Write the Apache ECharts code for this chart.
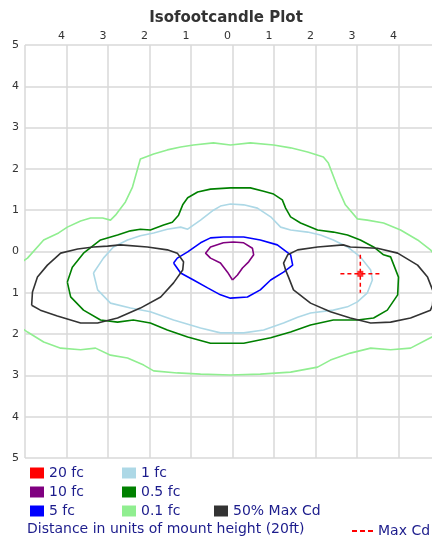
<!DOCTYPE html>
<html>
<head>
<meta charset="utf-8">
<script src="https://cdn.jsdelivr.net/npm/echarts@6/dist/echarts.min.js"></script>
<style>
  html, body { margin: 0; padding: 0; background: #fff; overflow: hidden; }
  #main { width: 432px; height: 542px; }
</style>
</head>
<body>
<div id="main"></div>
<script>
// contour points, [x, y] in mount heights (y up = back side)
var fc20 = [];

var fc10 = [
  [0.00, -0.69], [-0.12, -0.50], [-0.29, -0.28], [-0.53, -0.16], [-0.65, -0.04],
  [-0.53, 0.11], [-0.22, 0.21], [0.02, 0.23], [0.27, 0.21], [0.48, 0.08],
  [0.51, -0.08], [0.39, -0.25], [0.24, -0.40], [0.12, -0.57], [0.00, -0.69]
];

var fc5 = [
  [-1.42, -0.28], [-1.25, -0.52], [-0.94, -0.69], [-0.60, -0.88], [-0.29, -1.05],
  [-0.05, -1.13], [0.36, -1.10], [0.67, -0.93], [0.92, -0.69], [1.23, -0.50],
  [1.45, -0.33], [1.40, -0.08], [1.08, 0.16], [0.67, 0.28], [0.27, 0.35],
  [-0.22, 0.35], [-0.53, 0.33], [-0.77, 0.21], [-1.08, -0.01], [-1.33, -0.16],
  [-1.42, -0.28]
];

var fc1 = [
  [-3.35, -0.52], [-3.25, -0.93], [-2.94, -1.25], [-2.46, -1.37], [-1.98, -1.46],
  [-1.42, -1.66], [-0.77, -1.85], [-0.29, -1.97], [0.27, -1.97], [0.75, -1.90],
  [1.23, -1.73], [1.57, -1.59], [1.88, -1.49], [2.43, -1.42], [2.77, -1.34],
  [3.01, -1.22], [3.25, -1.00], [3.37, -0.69], [3.33, -0.45], [3.08, -0.13],
  [2.77, 0.11], [2.43, 0.28], [2.12, 0.40], [1.81, 0.47], [1.40, 0.52],
  [1.16, 0.59], [0.92, 0.84], [0.60, 1.05], [0.27, 1.13], [-0.05, 1.15],
  [-0.29, 1.10], [-0.46, 1.00], [-0.77, 0.76], [-1.08, 0.54], [-1.25, 0.59],
  [-1.57, 0.54], [-1.90, 0.45], [-2.22, 0.38], [-2.53, 0.28], [-2.87, 0.11],
  [-3.11, -0.16], [-3.35, -0.52]
];

var fc05 = [
  [-3.98, -0.74], [-3.86, -0.38], [-3.59, -0.04], [-3.18, 0.28], [-2.77, 0.40],
  [-2.46, 0.50], [-2.22, 0.54], [-1.98, 0.52], [-1.66, 0.64], [-1.45, 0.71],
  [-1.30, 0.88], [-1.20, 1.13], [-1.08, 1.30], [-0.84, 1.44], [-0.53, 1.51],
  [-0.05, 1.54], [0.43, 1.54], [0.75, 1.46], [0.99, 1.39], [1.20, 1.25],
  [1.28, 1.05], [1.40, 0.84], [1.64, 0.69], [2.05, 0.52], [2.43, 0.47],
  [2.77, 0.40], [3.08, 0.28], [3.40, 0.11], [3.64, -0.08], [3.81, -0.13],
  [4.00, -0.62], [3.98, -1.05], [3.73, -1.42], [3.40, -1.61], [3.01, -1.66],
  [2.43, -1.66], [1.88, -1.78], [1.40, -1.95], [0.92, -2.09], [0.27, -2.22],
  [-0.53, -2.22], [-1.08, -2.07], [-1.57, -1.90], [-1.98, -1.73], [-2.39, -1.66],
  [-2.77, -1.71], [-3.18, -1.66], [-3.59, -1.42], [-3.90, -1.10], [-3.98, -0.74]
];

var fc01 = [
  [-5.30, -0.40], [-4.94, -0.16], [-4.55, 0.28], [-4.19, 0.45], [-3.98, 0.59],
  [-3.66, 0.74], [-3.42, 0.81], [-3.13, 0.81], [-2.94, 0.76], [-2.82, 0.88],
  [-2.58, 1.20], [-2.41, 1.56], [-2.22, 2.24], [-1.90, 2.36], [-1.57, 2.46],
  [-1.25, 2.53], [-0.94, 2.58], [-0.46, 2.63], [-0.05, 2.58], [0.43, 2.63],
  [0.99, 2.58], [1.40, 2.51], [1.81, 2.41], [2.19, 2.29], [2.31, 2.14],
  [2.53, 1.56], [2.72, 1.13], [3.01, 0.79], [3.25, 0.76], [3.64, 0.69],
  [4.05, 0.52], [4.46, 0.28], [4.77, 0.04], [5.30, -0.60], [5.30, -1.80],
  [4.77, -2.09], [4.29, -2.34], [3.81, -2.38], [3.33, -2.34], [2.84, -2.46],
  [2.36, -2.63], [2.05, -2.80], [1.40, -2.92], [0.67, -2.97], [-0.05, -2.99],
  [-0.77, -2.97], [-1.33, -2.94], [-1.90, -2.89], [-2.14, -2.75], [-2.53, -2.58],
  [-2.94, -2.51], [-3.30, -2.34], [-3.66, -2.38], [-4.14, -2.34], [-4.55, -2.19],
  [-4.94, -1.95], [-5.30, -1.70], [-5.30, -0.40]
];

// 50% of max candela, one lobe each side
var halfCdLeft = [
  [-4.84, -1.30], [-4.63, -1.42], [-4.22, -1.56], [-3.66, -1.73], [-3.25, -1.73],
  [-2.77, -1.61], [-2.22, -1.37], [-1.73, -1.10], [-1.42, -0.76], [-1.20, -0.45],
  [-1.18, -0.25], [-1.33, -0.04], [-1.57, 0.04], [-2.05, 0.11], [-2.70, 0.16],
  [-3.01, 0.13], [-3.35, 0.11], [-3.73, 0.06], [-4.14, -0.04], [-4.46, -0.33],
  [-4.70, -0.62], [-4.82, -0.98], [-4.84, -1.30]
];
var halfCdRight = [
  [1.28, -0.45], [1.23, -0.28], [1.33, -0.08], [1.57, 0.04], [2.05, 0.11],
  [2.67, 0.16], [2.84, 0.11], [3.49, 0.08], [3.98, -0.04], [4.46, -0.33],
  [4.70, -0.62], [4.84, -0.98], [4.82, -1.30], [4.77, -1.42], [4.29, -1.61],
  [3.81, -1.71], [3.33, -1.73], [2.84, -1.61], [2.36, -1.46], [1.88, -1.25],
  [1.47, -0.93], [1.35, -0.62], [1.28, -0.45]
];

// max candela point and its crosshair arms
var maxCd = [[3.08, -0.54]];
var maxCdH = [[2.60, -0.54], [3.57, -0.54]];
var maxCdV = [[3.08, -0.08], [3.08, -1.00]];

var axisTicks = [-5, -4, -3, -2, -1, 0, 1, 2, 3, 4, 5];

var legendText = '#1c1c8c';
var gridColor = '#d9d9d9';
var dashIcon = 'path://M0,0h5v2h-5z M8,0h5v2h-5z M16,0h5v2h-5z';

function contour(name, data, color) {
  return {
    name: name,
    type: 'line',
    data: data,
    symbol: 'none',
    clip: true,
    silent: true,
    lineStyle: { color: color, width: 1.6 },
    itemStyle: { color: color }
  };
}

function crossArm(data) {
  return {
    name: 'Max Cd', type: 'line', data: data, symbol: 'none', silent: true,
    lineStyle: { color: '#ff0000', width: 1.5, type: [4, 3] },
    itemStyle: { color: '#ff0000' }
  };
}

var legendFont = { fontFamily: 'DejaVu Sans', fontSize: 14, lineHeight: 14, color: legendText };

var chart = echarts.init(document.getElementById('main'), null, { renderer: 'canvas' });

var option = {
  animation: false,
  backgroundColor: '#fff',
  title: {
    text: 'Isofootcandle Plot',
    left: 221,
    textAlign: 'center',
    top: 6,
    textStyle: { fontFamily: 'DejaVu Sans', fontSize: 15, fontWeight: 'bold', color: '#333' }
  },
  // plot runs past the right edge of the window, like the source image
  grid: { left: 25, top: 45, width: 415, height: 413, show: false, outerBoundsMode: 'none', containLabel: false },
  xAxis: {
    type: 'value',
    position: 'top',
    min: axisTicks[0],
    max: axisTicks[axisTicks.length - 1],
    interval: 1,
    axisLine: { show: false },
    axisTick: { show: false },
    axisLabel: {
      showMinLabel: false,
      showMaxLabel: false,
      margin: 3,
      padding: [0, 10, 0, 0],
      fontFamily: 'DejaVu Sans',
      fontSize: 11,
      color: '#333',
      formatter: function (v) { return Math.abs(v); }
    },
    splitLine: { lineStyle: { color: gridColor, width: 1.5 } }
  },
  yAxis: {
    type: 'value',
    min: axisTicks[0],
    max: axisTicks[axisTicks.length - 1],
    interval: 1,
    axisLine: { show: false },
    axisTick: { show: false },
    axisLabel: {
      margin: 6,
      fontFamily: 'DejaVu Sans',
      fontSize: 11,
      color: '#333',
      formatter: function (v) { return Math.abs(v); }
    },
    splitLine: { lineStyle: { color: gridColor, width: 1.5 } }
  },
  legend: [
    {
      data: ['20 fc', '10 fc', '5 fc'],
      orient: 'vertical', left: 25, top: 461,
      icon: 'rect', itemWidth: 14, itemHeight: 11, itemGap: 5, itemTextGap: 5,
      selectedMode: false, textStyle: legendFont
    },
    {
      data: ['1 fc', '0.5 fc', '0.1 fc'],
      orient: 'vertical', left: 117, top: 461,
      icon: 'rect', itemWidth: 14, itemHeight: 11, itemGap: 5, itemTextGap: 5,
      selectedMode: false, textStyle: legendFont
    },
    {
      data: ['50% Max Cd'],
      left: 209, top: 499,
      icon: 'rect', itemWidth: 14, itemHeight: 11, itemTextGap: 5,
      selectedMode: false, textStyle: legendFont
    },
    {
      data: ['Max Cd'],
      left: 347, top: 519,
      icon: dashIcon, itemWidth: 21, itemHeight: 2, itemTextGap: 12,
      selectedMode: false, textStyle: legendFont
    }
  ],
  graphic: [{
    type: 'text',
    left: 27, top: 522,
    style: {
      text: 'Distance in units of mount height (20ft)',
      font: '14px "DejaVu Sans"',
      fill: legendText
    }
  }],
  series: [
    contour('20 fc', fc20, '#ff0000'),
    contour('10 fc', fc10, '#800080'),
    contour('5 fc', fc5, '#0000ff'),
    contour('1 fc', fc1, '#add8e6'),
    contour('0.5 fc', fc05, '#008000'),
    contour('0.1 fc', fc01, '#90ee90'),
    contour('50% Max Cd', halfCdLeft, '#333'),
    contour('50% Max Cd', halfCdRight, '#333'),
    crossArm(maxCdH),
    crossArm(maxCdV),
    {
      name: 'Max Cd point', type: 'scatter', data: maxCd, symbol: 'rect', symbolSize: 6, silent: true,
      itemStyle: { color: '#ff0000' }
    }
  ]
};

chart.setOption(option);
</script>
</body>
</html>
